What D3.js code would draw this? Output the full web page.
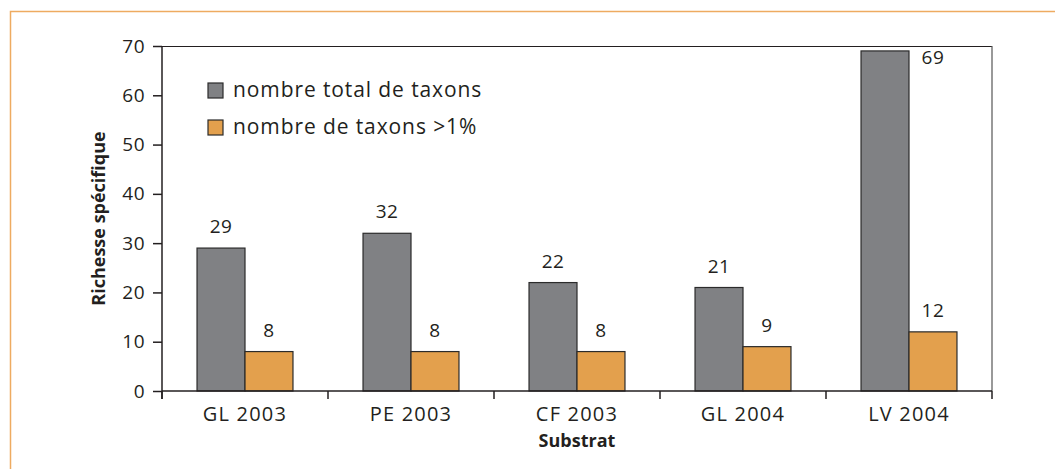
<!DOCTYPE html>
<meta charset="utf-8">
<html>
<head>
<script src="https://d3js.org/d3.v7.min.js"></script>
<style>
    body { margin: 0; background: #fff; }
    svg text { font-family: "Open Sans", sans-serif; fill: #231f20; }
</style>
</head>
<body>
<svg id="chart"></svg>
<script>

var categories = ["GL 2003", "PE 2003", "CF 2003", "GL 2004", "LV 2004"]
var totalTaxons = [29, 32, 22, 21, 69]
var taxonsOver1 = [8, 8, 8, 9, 12]
var seriesNames = ["nombre total de taxons", "nombre de taxons >1%"]
var seriesColors = ["#808184", "#e3a04d"]
var yTicks = [0, 10, 20, 30, 40, 50, 60, 70]

var width = 1055, height = 469
var margin = {left: 162, right: 63, top: 46, bottom: 78}

var svg = d3.select("#chart").attr("width", width).attr("height", height)

// orange frame (top and left)
svg.append("path")
    .attr("d", "M10.5,469 V11.5 H1055")
    .attr("fill", "none")
    .attr("stroke", "#eeab61")
    .attr("stroke-width", 1.5)

var x = d3.scaleBand()
    .domain(categories)
    .range([margin.left, width - margin.right])

var sub = d3.scaleBand()
    .domain([0, 1])
    .range([0, x.bandwidth()])
    .paddingOuter(0.73)

var y = d3.scaleLinear()
    .domain([0, 70])
    .range([height - margin.bottom, margin.top])

// plot frame
svg.append("line")
    .attr("x1", margin.left).attr("x2", width - margin.right)
    .attr("y1", margin.top + 0.5).attr("y2", margin.top + 0.5)
    .attr("stroke", "#231f20").attr("stroke-width", 1.2)
svg.append("line")
    .attr("x1", width - margin.right).attr("x2", width - margin.right)
    .attr("y1", margin.top).attr("y2", y(0))
    .attr("stroke", "#555").attr("stroke-width", 1.2)

var rows = categories.map((c, i) => ({cat: c, vals: [totalTaxons[i], taxonsOver1[i]]}))

var groups = svg.selectAll(".grp")
    .data(rows)
    .enter()
    .append("g")
    .attr("transform", d => "translate(" + x(d.cat) + ",0)")

groups.selectAll("rect")
    .data(d => d.vals.map((v, k) => ({k: k, v: v})))
    .enter()
    .append("rect")
    .attr("x", d => sub(d.k))
    .attr("width", sub.bandwidth())
    .attr("y", d => y(d.v))
    .attr("height", d => y(0) - y(d.v))
    .attr("fill", d => seriesColors[d.k])
    .attr("stroke", "#2b2b2b")
    .attr("stroke-width", 1.2)

// value labels; when there is no room above a bar, put it beside at the top
groups.selectAll(".val")
    .data(d => d.vals.map((v, k) => ({k: k, v: v})))
    .enter()
    .append("text")
    .attr("text-anchor", "middle")
    .attr("font-size", 19)
    .attr("letter-spacing", 0.5)
    .attr("x", d => y(d.v) - 30 < margin.top ? sub(d.k + 1) + sub.bandwidth() / 2 : sub(d.k) + sub.bandwidth() / 2)
    .attr("y", d => y(d.v) - 30 < margin.top ? margin.top + 18 : y(d.v) - 15)
    .text(d => d.v)

// y axis
var yAxis = svg.append("g")
    .attr("transform", "translate(" + margin.left + ",0)")
    .call(d3.axisLeft(y).tickValues(yTicks).tickSize(9).tickPadding(8))
yAxis.select(".domain").attr("d", "M0," + margin.top + "V" + (y(0) + 8))
yAxis.selectAll("line, .domain").attr("stroke", "#231f20").attr("stroke-width", 1.5)
yAxis.selectAll("text").attr("font-size", 19).attr("letter-spacing", 0.5)
    .attr("font-family", "Open Sans, sans-serif").attr("fill", "#231f20")

// x axis with ticks at band edges
var xAxis = svg.append("g")
    .attr("transform", "translate(0," + y(0) + ")")
xAxis.append("line")
    .attr("x1", margin.left).attr("x2", width - margin.right)
    .attr("stroke", "#231f20").attr("stroke-width", 1.5)
xAxis.selectAll(".tk")
    .data(categories.concat(["end"]))
    .enter()
    .append("line")
    .attr("x1", (d, i) => i < categories.length ? x(d) : x(categories[i - 1]) + x.bandwidth())
    .attr("x2", (d, i) => i < categories.length ? x(d) : x(categories[i - 1]) + x.bandwidth())
    .attr("y1", 0).attr("y2", 8)
    .attr("stroke", "#231f20").attr("stroke-width", 1.5)
xAxis.selectAll(".lbl")
    .data(categories)
    .enter()
    .append("text")
    .attr("x", d => x(d) + x.bandwidth() / 2)
    .attr("y", 30)
    .attr("text-anchor", "middle")
    .attr("font-size", 20)
    .attr("letter-spacing", 1.2)
    .text(d => d)

// axis titles
svg.append("text")
    .attr("transform", "translate(105," + ((margin.top + y(0)) / 2) + ") rotate(-90)")
    .attr("text-anchor", "middle")
    .attr("font-size", 18)
    .attr("font-weight", "bold")
    .text("Richesse spécifique")
svg.append("text")
    .attr("x", (margin.left + width - margin.right) / 2)
    .attr("y", 447)
    .attr("text-anchor", "middle")
    .attr("font-size", 18)
    .attr("font-weight", "bold")
    .text("Substrat")

// legend
var legend = svg.append("g")
    .selectAll("g")
    .data(seriesNames)
    .enter()
    .append("g")
    .attr("transform", (d, i) => "translate(208," + (83 + i * 37) + ")")
legend.append("rect")
    .attr("width", 15).attr("height", 15)
    .attr("fill", (d, i) => seriesColors[i])
    .attr("stroke", "#2b2b2b").attr("stroke-width", 1.2)
legend.append("text")
    .attr("x", 25).attr("y", 14)
    .attr("font-size", 21)
    .attr("letter-spacing", 0.9)
    .text(d => d)

</script>
</body>
</html>
